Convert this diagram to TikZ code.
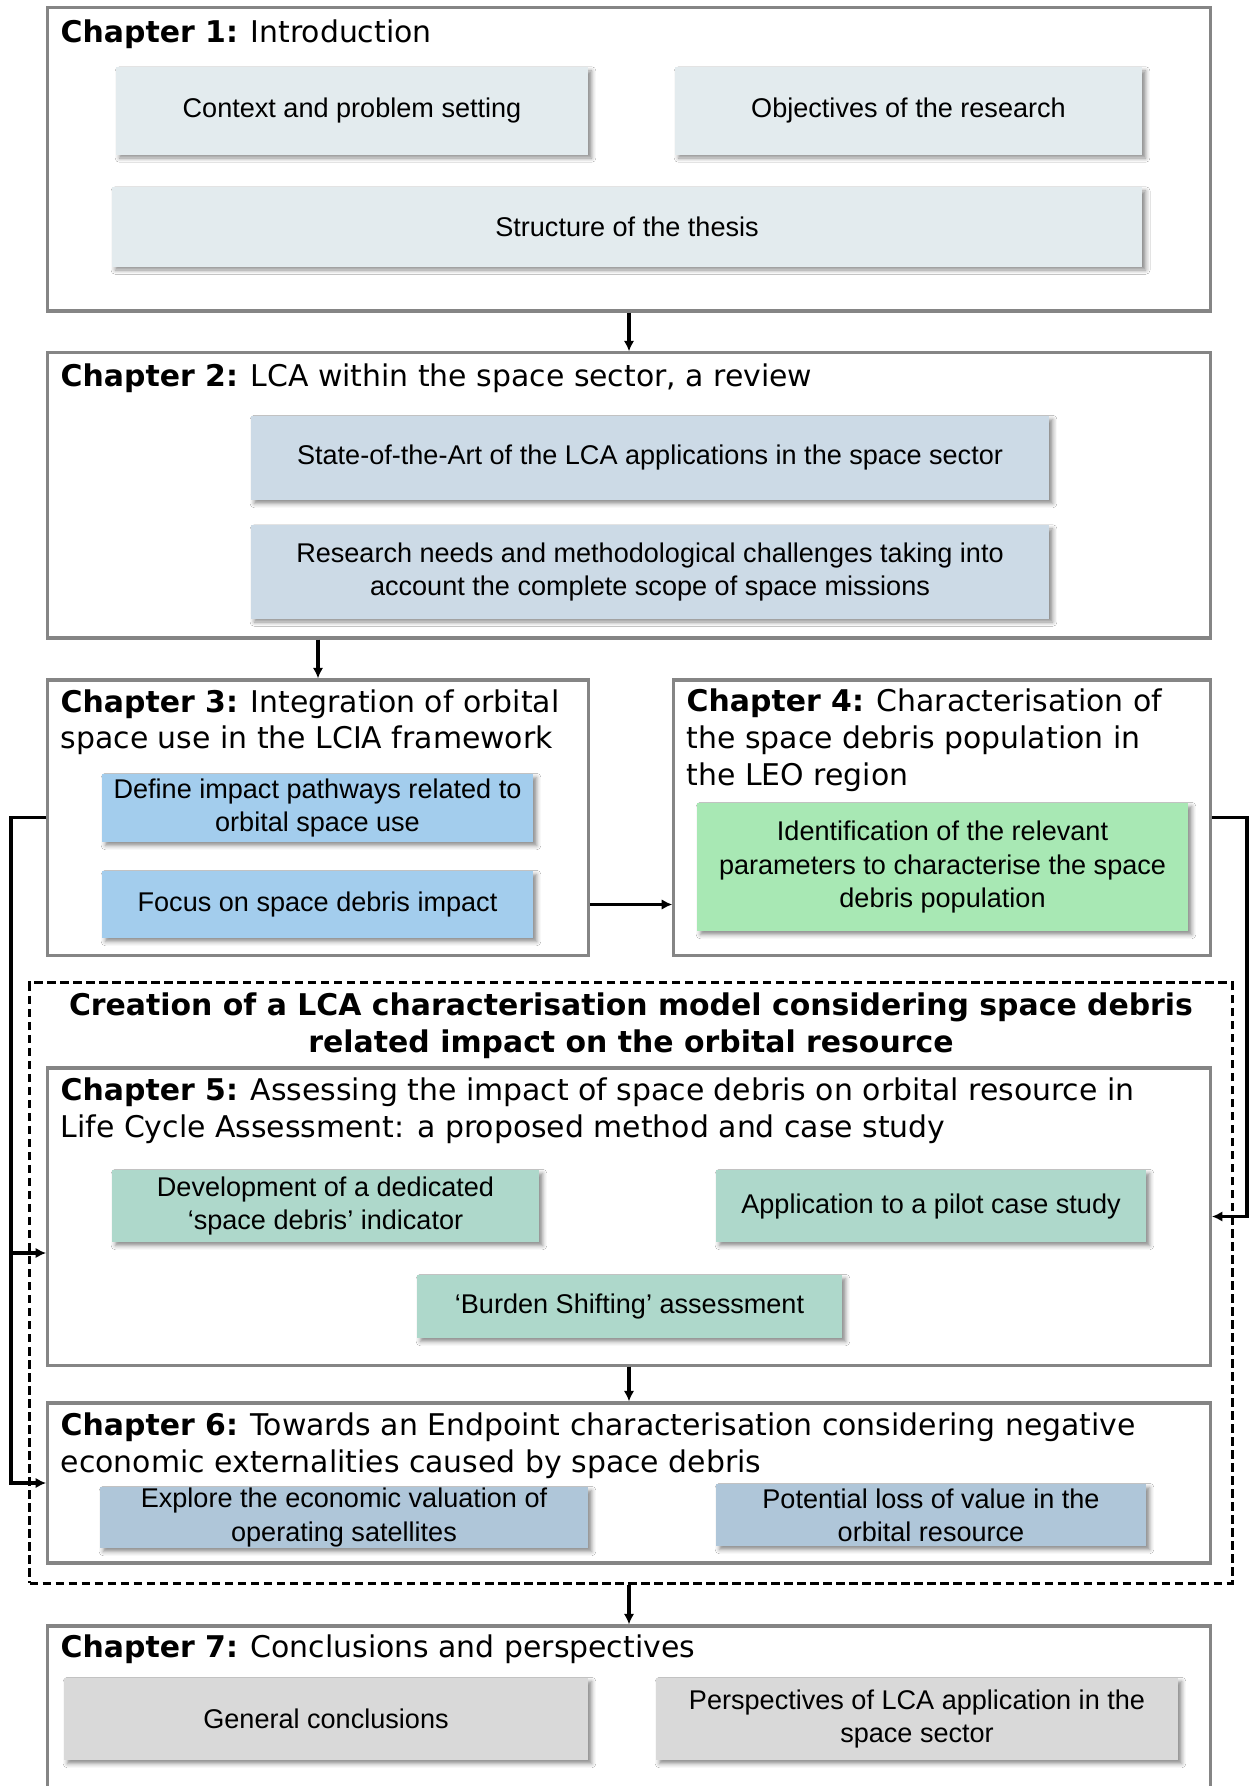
\documentclass[tikz,border=0pt]{standalone}
\usepackage{fontspec}
\setmainfont{Liberation Sans}
\newfontfamily\titlefont{DejaVu Sans}
\usetikzlibrary{arrows.meta,shadows.blur}
\definecolor{chapgray}{HTML}{858585}
\definecolor{introfill}{HTML}{E3EBEE}
\definecolor{reviewfill}{HTML}{CCDAE6}
\definecolor{lciafill}{HTML}{A3CDED}
\definecolor{leofill}{HTML}{A8E8B4}
\definecolor{modelfill}{HTML}{AED8CB}
\definecolor{econfill}{HTML}{AFC6D9}
\definecolor{conclfill}{HTML}{D9D9D9}

\begin{document}
\begin{tikzpicture}[x=0.01cm,y=-0.01cm,>={Latex[length=3pt,width=3pt]},
  chapter/.style={draw=chapgray,line width=0.9pt,fill=white,minimum width=11.62cm},
  title/.style={anchor=base west,inner sep=0pt,align=left,font=\titlefont\fontsize{8.5}{10.4}\selectfont},
  task/.style={inner sep=0pt,align=center,font=\fontsize{7.7}{9.4}\selectfont,
    blur shadow={shadow xshift=1pt,shadow yshift=-1pt,shadow blur radius=1.2pt,shadow opacity=45}},
  link/.style={->,line width=0.9pt}]
\useasboundingbox (0,0) rectangle (1250,1786);
\node (ch1) at (629,159.5) [chapter,minimum height=3.03cm] {};
\node (ch2) at (629,495.5) [chapter,minimum height=2.85cm] {};
\node (ch3) at (318,817.5) [chapter,minimum width=5.4cm,minimum height=2.75cm] {};
\node (ch4) at (942,817.5) [chapter,minimum width=5.36cm,minimum height=2.75cm] {};
\node (model) at (631,1283) [draw,line width=0.8pt,dash pattern=on 2.4pt off 1.3pt,minimum width=12.02cm,minimum height=6cm] {};
\node (ch5) at (629,1216.5) [chapter,minimum height=2.97cm] {};
\node (ch6) at (629,1483) [chapter,minimum height=1.6cm] {};
\node (ch7) at (629,1763) [chapter,minimum height=2.74cm] {};
\node (t1) at (60,43) [title] {\textbf{Chapter 1:} Introduction};
\node (t2) at (60,387) [title] {\textbf{Chapter 2:} LCA within the space sector, a review};
\node (t3) at (60,749) [title] {\textbf{Chapter 3:} Integration of orbital\\space use in the LCIA framework};
\node (t4) at (686,785) [title] {\textbf{Chapter 4:} Characterisation of\\the space debris population in\\the LEO region};
\node (tm) at (631,1052) [title,anchor=base,align=center] {\textbf{Creation of a LCA characterisation model considering space debris}\\\textbf{related impact on the orbital resource}};
\node (t5) at (60,1137) [title] {\textbf{Chapter 5:} Assessing the impact of space debris on orbital resource in\\Life Cycle Assessment: a proposed method and case study};
\node (t6) at (60,1472) [title] {\textbf{Chapter 6:} Towards an Endpoint characterisation considering negative\\economic externalities caused by space debris};
\node (t7) at (60,1657) [title] {\textbf{Chapter 7:} Conclusions and perspectives};
\node (context) at (352,111) [task,fill=introfill,minimum width=4.72cm,minimum height=0.87cm] {Context and problem setting};
\node (objectives) at (908.5,111) [task,fill=introfill,minimum width=4.67cm,minimum height=0.87cm] {Objectives of the research};
\node (structure) at (627,227) [task,fill=introfill,minimum width=10.3cm,minimum height=0.79cm] {Structure of the thesis};
\node (stateart) at (650,458) [task,fill=reviewfill,minimum width=7.98cm,minimum height=0.84cm] {State-of-the-Art of the LCA applications in the space sector};
\node (needs) at (650,572) [task,fill=reviewfill,minimum width=7.98cm,minimum height=0.93cm] {Research needs and methodological challenges taking into\\account the complete scope of space missions};
\node (pathways) at (317.5,808) [task,fill=lciafill,minimum width=4.31cm,minimum height=0.68cm] {Define impact pathways related to\\orbital space use};
\node (focus) at (317.5,904.5) [task,fill=lciafill,minimum width=4.31cm,minimum height=0.67cm] {Focus on space debris impact};
\node (params) at (942.5,867) [task,fill=leofill,minimum width=4.91cm,minimum height=1.28cm] {Identification of the relevant\\parameters to characterise the space\\debris population};
\node (indicator) at (325.5,1206) [task,fill=modelfill,minimum width=4.27cm,minimum height=0.72cm] {Development of a dedicated\\‘space debris’ indicator};
\node (pilot) at (931,1206) [task,fill=modelfill,minimum width=4.3cm,minimum height=0.72cm] {Application to a pilot case study};
\node (burden) at (629.5,1306.5) [task,fill=modelfill,minimum width=4.25cm,minimum height=0.63cm] {‘Burden Shifting’ assessment};
\node (valuation) at (344,1517.5) [task,fill=econfill,minimum width=4.88cm,minimum height=0.61cm] {Explore the economic valuation of\\operating satellites};
\node (loss) at (931,1515) [task,fill=econfill,minimum width=4.3cm,minimum height=0.62cm] {Potential loss of value in the\\orbital resource};
\node (general) at (326,1719) [task,fill=conclfill,minimum width=5.24cm,minimum height=0.82cm] {General conclusions};
\node (persp) at (917,1719) [task,fill=conclfill,minimum width=5.22cm,minimum height=0.82cm] {Perspectives of LCA application in the\\space sector};
\coordinate (lrail) at (11,1253);
\coordinate (rrail) at (1247,817.5);
\draw[link] (ch1.south) -- (ch2.north);
\draw[link] (ch3.north |- ch2.south) -- (ch3.north);
\draw[link] (ch3.east |- focus) -- (ch4.west |- focus);
\draw[link] (ch3.west) -| (lrail) -- (ch5.west |- lrail);
\draw[link] (lrail) |- (ch6.west);
\draw[link] (ch4.east) -- (rrail) |- (ch5.east);
\draw[link] (ch5.south) -- (ch6.north);
\draw[link] (ch7.north |- model.south) -- (ch7.north);
\end{tikzpicture}
\end{document}
